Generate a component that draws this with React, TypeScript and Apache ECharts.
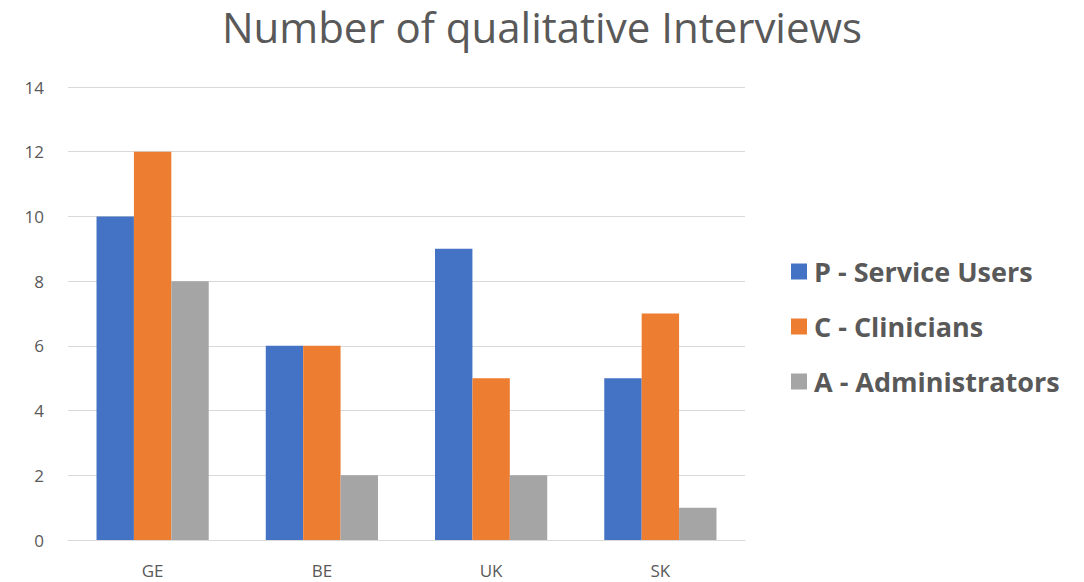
import React, { useEffect, useRef } from "react";
import * as echarts from "echarts";

const categories = ["GE", "BE", "UK", "SK"];
const serviceUsers = [10, 6, 9, 5];
const clinicians = [12, 6, 5, 7];
const administrators = [8, 2, 2, 1];
const seriesNames = ["P - Service Users", "C - Clinicians", "A - Administrators"];
const colors = ["#4472C4", "#ED7D31", "#A5A5A5"];

export default function App() {
  const ref = useRef<HTMLDivElement>(null);
  useEffect(() => {
    if (!ref.current) return;
    const chart = echarts.init(ref.current, undefined, { renderer: "svg" });
    const font = "'Open Sans', 'Liberation Sans', sans-serif";
    const data = [serviceUsers, clinicians, administrators];
    chart.setOption({
      animation: false,
      backgroundColor: "#FFFFFF",
      textStyle: { fontFamily: font },
      title: {
        text: "Number of qualitative Interviews",
        left: "center",
        top: 5,
        padding: [0, 0, 0, 4],
        textStyle: { fontSize: 42, fontWeight: "normal", color: "#595959", fontFamily: font },
      },
      legend: {
        orient: "vertical",
        left: 786,
        top: 253,
        itemWidth: 16,
        itemHeight: 16,
        itemGap: 28,
        icon: "rect",
        textStyle: { fontSize: 27, fontWeight: "bold", color: "#595959", fontFamily: font, padding: [0, 0, 0, 2] },
        data: seriesNames,
      },
      grid: { left: 68, right: 339, top: 87, bottom: 42, containLabel: false },
      xAxis: {
        type: "category",
        data: categories,
        axisLine: { lineStyle: { color: "#D9D9D9" } },
        axisTick: { show: false },
        axisLabel: { fontSize: 17, color: "#595959", margin: 22, fontFamily: font },
      },
      yAxis: {
        type: "value",
        min: 0,
        max: 14,
        interval: 2,
        axisLine: { show: false },
        axisTick: { show: false },
        splitLine: { lineStyle: { color: "#D9D9D9", width: 1 } },
        axisLabel: { fontSize: 17, color: "#595959", margin: 24, fontFamily: font },
      },
      series: seriesNames.map((name, i) => ({
        name,
        type: "bar",
        data: data[i],
        barGap: "0%",
        barCategoryGap: "33.7%",
        itemStyle: { color: colors[i] },
      })),
    });
    return () => chart.dispose();
  }, []);
  return <div ref={ref} style={{ position: "fixed", left: 0, top: 0, width: 1084, height: 582 }} />;
}
